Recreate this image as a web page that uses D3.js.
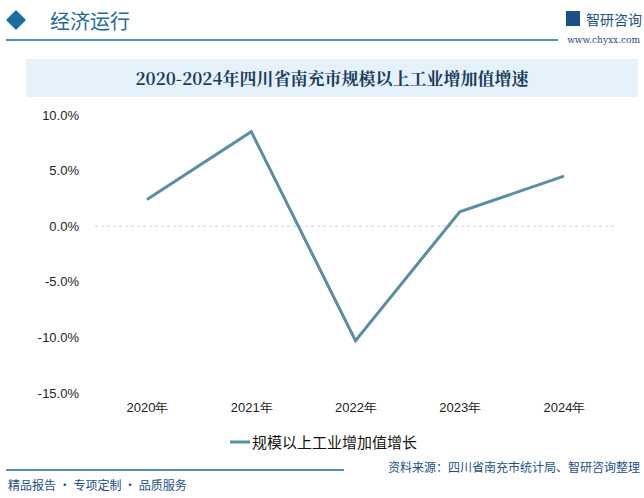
<!DOCTYPE html>
<html><head><meta charset="utf-8">
<script src="https://cdn.jsdelivr.net/npm/d3@7"></script>
<style>body{margin:0;background:#fff;font-family:"Noto Sans CJK SC","Noto Sans",sans-serif;}</style>
</head><body><div id="chart"></div>
<script>
var years = ['2020年', '2021年', '2022年', '2023年', '2024年'];
var growth = [2.4, 8.5, -10.3, 1.3, 4.5];
var yTicks = [10, 5, 0, -5, -10, -15];

var W = 644, H = 498;
var svg = d3.select('#chart').append('svg').attr('width', W).attr('height', H);

// header
svg.append('path').attr('d', 'M6,20 L16,10 L26,20 L16,30 Z').attr('fill', '#1c6aa0');
svg.append('text').attr('x', 50).attr('y', 29).attr('font-size', 20).attr('fill', '#1c6aa0').text('经济运行');
svg.append('line').attr('x1', 6).attr('x2', 558).attr('y1', 40).attr('y2', 40).attr('stroke', '#1c6aa0').attr('stroke-width', 1.5);
svg.append('text').attr('x', 586).attr('y', 25).attr('font-size', 14).attr('fill', '#1c4f8a').text('智研咨询');
svg.append('rect').attr('x', 566).attr('y', 11).attr('width', 14).attr('height', 15).attr('fill', '#1c4f8a');
svg.append('text').attr('x', 640).attr('y', 43).attr('text-anchor', 'end').attr('font-size', 9).attr('fill', '#1c4f8a').attr('font-family', 'DejaVu Serif').text('www.chyxx.com');

// title box
svg.append('rect').attr('x', 26).attr('y', 59).attr('width', 612).attr('height', 38).attr('fill', '#e6f2fb');
svg.append('text').attr('x', 332).attr('y', 85).attr('text-anchor', 'middle').attr('font-size', 17).attr('font-weight', 'bold')
  .attr('fill', '#1a3c5e').attr('font-family', '"Noto Serif CJK SC","Noto Sans CJK SC",serif').text('2020-2024年四川省南充市规模以上工业增加值增速');

var x = d3.scalePoint().domain(years).range([147, 564]);
var y = d3.scaleLinear().domain([-15, 10]).range([393, 115]);

var yAxis = svg.append('g').attr('transform', 'translate(82,0)')
  .call(d3.axisLeft(y).tickValues(yTicks).tickSize(0).tickFormat(function(d){ return d.toFixed(1) + '%'; }));
yAxis.select('.domain').remove();
yAxis.selectAll('text').attr('font-size', 13).attr('fill', '#222').attr('font-family', 'Liberation Sans, sans-serif');

var xAxis = svg.append('g').attr('transform', 'translate(0,400)')
  .call(d3.axisBottom(x).tickSize(0));
xAxis.select('.domain').remove();
xAxis.selectAll('text').attr('font-size', 13).attr('fill', '#222');

svg.append('line').attr('x1', 95).attr('x2', 615).attr('y1', y(0)).attr('y2', y(0)).attr('stroke', '#ccc').attr('stroke-dasharray', '3,3');

svg.append('path').datum(growth)
  .attr('d', d3.line().x(function(d, i){ return x(years[i]); }).y(function(d){ return y(d); }))
  .attr('fill', 'none').attr('stroke', '#5b8ea3').attr('stroke-width', 3);

// legend
svg.append('line').attr('x1', 230).attr('x2', 250).attr('y1', 442).attr('y2', 442).attr('stroke', '#5b8ea3').attr('stroke-width', 3);
svg.append('text').attr('x', 252).attr('y', 448).attr('font-size', 15).attr('fill', '#111').text('规模以上工业增加值增长');

// footer
svg.append('line').attr('x1', 6).attr('x2', 344).attr('y1', 470).attr('y2', 470).attr('stroke', '#1c6aa0').attr('stroke-width', 1.5);
svg.append('text').attr('x', 8).attr('y', 490).attr('font-size', 12).attr('fill', '#1c4f8a').text('精品报告 · 专项定制 · 品质服务');
svg.append('text').attr('x', 640).attr('y', 472).attr('text-anchor', 'end').attr('font-size', 12).attr('fill', '#1c4f8a').text('资料来源：四川省南充市统计局、智研咨询整理');
</script></body></html>
